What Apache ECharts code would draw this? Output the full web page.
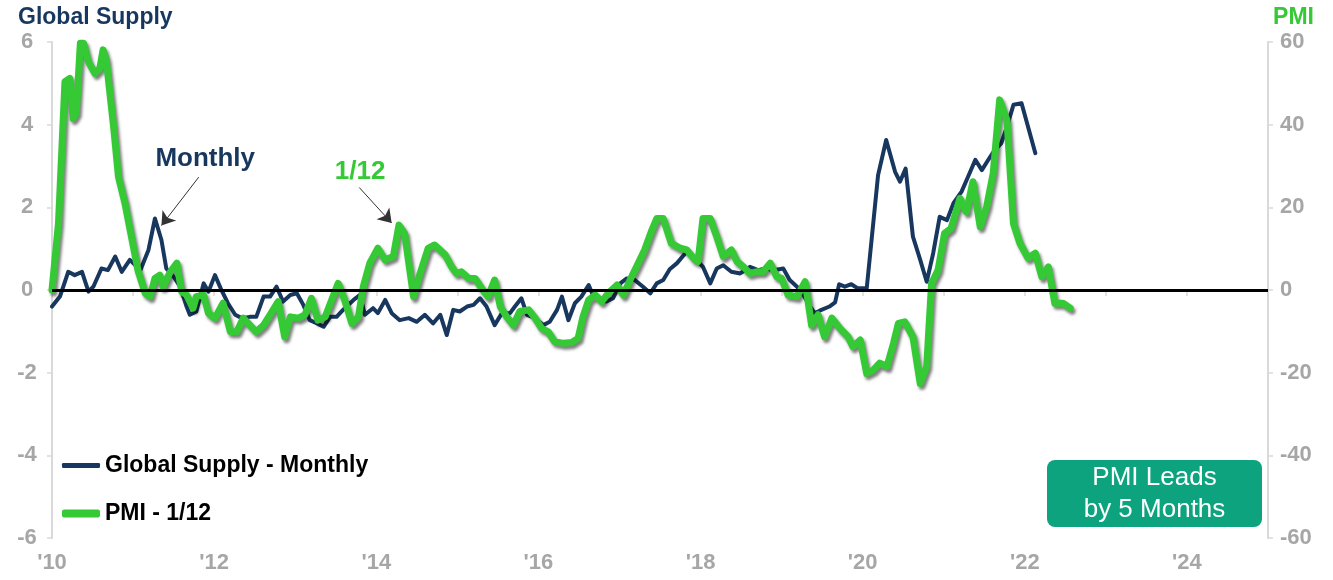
<!DOCTYPE html>
<html>
<head>
<meta charset="utf-8">
<script src="https://cdn.jsdelivr.net/npm/echarts@6/dist/echarts.min.js"></script>
<style>
  html, body { margin: 0; padding: 0; background: #fff; }
  #chart { width: 1333px; height: 580px; }
</style>
</head>
<body>
<div id="chart"></div>
<script>
// Global supply index (left axis), decimal years
const supplyYears = [
  2010.00, 2010.10, 2010.20, 2010.28, 2010.37, 2010.45, 2010.51, 2010.61, 2010.69, 2010.78,
  2010.86, 2010.96, 2011.09, 2011.19, 2011.27, 2011.35, 2011.41, 2011.50, 2011.58, 2011.66,
  2011.70, 2011.78, 2011.87, 2011.93, 2012.01, 2012.09, 2012.17, 2012.26, 2012.34, 2012.44,
  2012.52, 2012.61, 2012.69, 2012.77, 2012.85, 2012.94, 2013.02, 2013.10, 2013.18, 2013.27,
  2013.35, 2013.43, 2013.51, 2013.59, 2013.72, 2013.80, 2013.86, 2013.96, 2014.02, 2014.11,
  2014.19, 2014.29, 2014.40, 2014.50, 2014.60, 2014.70, 2014.79, 2014.87, 2014.95, 2015.03,
  2015.12, 2015.20, 2015.28, 2015.36, 2015.46, 2015.55, 2015.65, 2015.71, 2015.79, 2015.86,
  2015.96, 2016.06, 2016.14, 2016.23, 2016.29, 2016.37, 2016.45, 2016.53, 2016.62, 2016.68,
  2016.76, 2016.84, 2016.92, 2017.01, 2017.09, 2017.19, 2017.29, 2017.38, 2017.46, 2017.54,
  2017.62, 2017.71, 2017.83, 2017.93, 2018.03, 2018.12, 2018.20, 2018.28, 2018.38, 2018.49,
  2018.61, 2018.71, 2018.80, 2018.90, 2019.02, 2019.10, 2019.19, 2019.27, 2019.35, 2019.41,
  2019.47, 2019.59, 2019.66, 2019.71, 2019.78, 2019.86, 2019.94, 2020.05, 2020.19, 2020.29,
  2020.40, 2020.46, 2020.53, 2020.62, 2020.71, 2020.79, 2020.87, 2020.95, 2021.04, 2021.12,
  2021.22, 2021.30, 2021.39, 2021.47, 2021.55, 2021.63, 2021.71, 2021.78, 2021.86, 2021.96,
  2022.04, 2022.13
];
const supplyValues = [
  -0.40, -0.15, 0.44, 0.36, 0.44, -0.04, 0.08, 0.52, 0.48, 0.81,
  0.44, 0.73, 0.48, 0.97, 1.73, 1.21, 0.52, 0.32, 0.08, -0.40,
  -0.60, -0.52, 0.16, -0.04, 0.36, 0.00, -0.32, -0.60, -0.68, -0.65,
  -0.65, -0.16, -0.16, 0.08, -0.28, -0.12, -0.08, -0.36, -0.73, -0.81,
  -0.89, -0.65, -0.65, -0.48, -0.24, -0.12, -0.60, -0.44, -0.56, -0.24,
  -0.56, -0.73, -0.68, -0.77, -0.60, -0.81, -0.60, -1.09, -0.48, -0.52,
  -0.40, -0.36, -0.20, -0.40, -0.85, -0.56, -0.56, -0.40, -0.20, -0.60,
  -0.68, -0.85, -0.77, -0.48, -0.16, -0.73, -0.32, -0.16, 0.12, -0.16,
  -0.24, -0.28, -0.20, 0.16, 0.28, 0.24, 0.08, -0.08, 0.16, 0.24,
  0.50, 0.65, 0.93, 0.77, 0.56, 0.16, 0.52, 0.60, 0.44, 0.40,
  0.56, 0.48, 0.52, 0.48, 0.52, 0.24, 0.08, -0.12, -0.40, -0.56,
  -0.50, -0.40, -0.30, 0.14, 0.08, 0.14, 0.04, 0.04, 2.78, 3.63,
  2.86, 2.62, 2.94, 1.29, 0.73, 0.20, 0.89, 1.77, 1.69, 2.10,
  2.38, 2.74, 3.15, 2.90, 3.15, 3.39, 3.55, 3.95, 4.48, 4.52,
  3.95, 3.31
];

// PMI, shifted forward (right axis), decimal years
const pmiYears = [
  2010.00, 2010.08, 2010.16, 2010.22, 2010.26, 2010.30, 2010.35, 2010.39, 2010.45, 2010.53,
  2010.59, 2010.63, 2010.67, 2010.76, 2010.82, 2010.90, 2010.98, 2011.06, 2011.15, 2011.21,
  2011.27, 2011.33, 2011.37, 2011.46, 2011.54, 2011.60, 2011.66, 2011.74, 2011.78, 2011.87,
  2011.93, 2012.01, 2012.11, 2012.20, 2012.28, 2012.36, 2012.44, 2012.52, 2012.61, 2012.69,
  2012.79, 2012.87, 2012.94, 2013.04, 2013.12, 2013.20, 2013.28, 2013.37, 2013.45, 2013.53,
  2013.61, 2013.70, 2013.78, 2013.84, 2013.92, 2014.02, 2014.11, 2014.21, 2014.28, 2014.35,
  2014.46, 2014.54, 2014.64, 2014.72, 2014.85, 2014.93, 2014.99, 2015.05, 2015.14, 2015.22,
  2015.30, 2015.38, 2015.46, 2015.53, 2015.61, 2015.69, 2015.77, 2015.88, 2015.96, 2016.04,
  2016.12, 2016.20, 2016.31, 2016.41, 2016.49, 2016.55, 2016.62, 2016.70, 2016.78, 2016.86,
  2016.97, 2017.05, 2017.13, 2017.21, 2017.31, 2017.40, 2017.46, 2017.54, 2017.64, 2017.75,
  2017.83, 2017.93, 2017.97, 2018.03, 2018.12, 2018.20, 2018.28, 2018.38, 2018.45, 2018.53,
  2018.61, 2018.69, 2018.77, 2018.86, 2018.94, 2019.00, 2019.08, 2019.19, 2019.29, 2019.37,
  2019.45, 2019.53, 2019.62, 2019.72, 2019.82, 2019.88, 2019.97, 2020.05, 2020.13, 2020.21,
  2020.30, 2020.38, 2020.44, 2020.52, 2020.62, 2020.71, 2020.79, 2020.85, 2020.93, 2021.01,
  2021.09, 2021.20, 2021.28, 2021.36, 2021.45, 2021.53, 2021.61, 2021.69, 2021.78, 2021.86,
  2021.94, 2022.04, 2022.13, 2022.21, 2022.29, 2022.37, 2022.47, 2022.56
];
const pmiValues = [
  0.0, 16.1, 50.4, 51.2, 41.5, 42.8, 59.7, 59.7, 55.2, 52.4,
  53.6, 58.1, 55.6, 39.5, 27.4, 21.0, 12.9, 4.8, -0.8, -1.6,
  2.8, 3.6, 0.8, 4.4, 6.5, -0.4, -1.2, -4.4, -1.6, -1.2,
  -5.6, -6.8, -3.2, -10.1, -10.1, -6.8, -8.5, -10.1, -8.5, -6.0,
  -2.8, -11.3, -6.5, -6.8, -6.0, -2.0, -7.3, -6.5, -2.4, 1.6,
  -2.4, -8.1, -6.5, 0.8, 6.5, 10.1, 7.3, 8.1, 15.7, 13.7,
  -1.6, 4.0, 10.1, 10.9, 8.5, 5.6, 4.0, 4.4, 2.8, 2.8,
  0.4, -1.6, 2.4, -4.0, -6.5, -8.5, -5.2, -4.8, -6.8, -9.3,
  -10.1, -12.5, -12.9, -12.7, -11.7, -6.5, -2.4, -1.2, -2.8, -0.8,
  1.2, -1.2, 2.4, 5.6, 9.7, 14.5, 17.3, 17.3, 11.3, 10.1,
  9.7, 7.3, 6.9, 17.3, 17.3, 12.9, 8.1, 9.7, 6.9, 5.6,
  4.0, 4.4, 4.4, 6.5, 3.2, 2.8, -1.2, -1.6, 2.0, -8.5,
  -6.0, -11.3, -6.8, -9.3, -11.3, -13.7, -12.1, -20.2, -19.4, -17.7,
  -18.5, -12.9, -8.1, -7.7, -11.3, -22.6, -18.5, 1.6, 4.8, 13.7,
  14.9, 22.2, 18.9, 26.2, 15.3, 20.2, 28.2, 46.0, 41.1, 16.1,
  11.3, 7.7, 8.9, 3.2, 5.6, -3.2, -3.2, -4.4
];

const NAVY = '#17375E';
const GREEN = '#36C936';
const GREY = '#A6A6A6';
const AXIS_LINE = '#D9D9D9';
const FONT = 'Liberation Sans, Arial, sans-serif';

const pair = (xs, ys) => xs.map((x, i) => [x, ys[i]]);

const chart = echarts.init(document.getElementById('chart'), null, { renderer: 'canvas' });

chart.setOption({
  animation: false,
  backgroundColor: '#fff',
  title: [
    { text: 'Global Supply', left: 18, top: 6, padding: 0,
      textStyle: { color: NAVY, fontSize: 23, fontWeight: 'bold', fontFamily: FONT } },
    { text: 'PMI', right: 19, top: 6, padding: 0,
      textStyle: { color: GREEN, fontSize: 23, fontWeight: 'bold', fontFamily: FONT } }
  ],
  legend: [
    { data: ['Global Supply - Monthly'], left: 62, top: 454, padding: 0, icon: 'roundRect',
      itemWidth: 38, itemHeight: 5, itemGap: 4,
      textStyle: { color: '#000', fontSize: 23, fontWeight: 'bold', fontFamily: FONT } },
    { data: ['PMI - 1/12'], left: 62, top: 502, padding: 0, icon: 'roundRect',
      itemWidth: 38, itemHeight: 8, itemGap: 4,
      textStyle: { color: '#000', fontSize: 23, fontWeight: 'bold', fontFamily: FONT } }
  ],
  grid: { left: 52, right: 65, top: 42, bottom: 42, containLabel: false },
  xAxis: {
    type: 'value', min: 2010, max: 2025, interval: 1,
    axisLine: { show: true, lineStyle: { color: AXIS_LINE, width: 2 } },
    axisTick: { show: true, length: 6, lineStyle: { color: AXIS_LINE, width: 1.5 } },
    splitLine: { show: false },
    axisLabel: {
      color: GREY, fontSize: 22, fontWeight: 'bold', fontFamily: FONT, margin: 14,
      showMaxLabel: false,
      formatter: v => (v % 2 === 0 ? "'" + String(v).slice(2) : '')
    }
  },
  yAxis: [
    {
      type: 'value', min: -6, max: 6, interval: 2, position: 'left',
      axisLine: { show: true, lineStyle: { color: AXIS_LINE, width: 2 } },
      axisTick: { show: true, length: 5, lineStyle: { color: AXIS_LINE, width: 1.5 } },
      splitLine: { show: false },
      axisLabel: { color: GREY, fontSize: 22, fontWeight: 'bold', fontFamily: FONT,
        align: 'center', margin: 25 }
    },
    {
      type: 'value', min: -60, max: 60, interval: 20, position: 'right',
      axisLine: { show: true, lineStyle: { color: AXIS_LINE, width: 2 } },
      axisTick: { show: true, length: 5, lineStyle: { color: AXIS_LINE, width: 1.5 } },
      splitLine: { show: false },
      axisLabel: { color: GREY, fontSize: 22, fontWeight: 'bold', fontFamily: FONT,
        align: 'left', margin: 12 }
    }
  ],
  series: [
    {
      name: 'Global Supply - Monthly',
      type: 'line', yAxisIndex: 0, z: 3,
      data: pair(supplyYears, supplyValues),
      symbol: 'none',
      itemStyle: { color: NAVY },
      lineStyle: { color: NAVY, width: 4, join: 'round', cap: 'round' },
      markLine: {
        silent: true, animation: false,
        symbol: ['none', 'none'],
        label: { show: false },
        data: [
          { yAxis: 0, lineStyle: { color: '#000', width: 3, type: 'solid' } },
          [
            { coord: [2011.81, 2.73], lineStyle: { color: '#333', width: 1, type: 'solid' } },
            { coord: [2011.35, 1.56], symbol: 'arrow', symbolSize: 13 }
          ],
          [
            { coord: [2013.79, 2.48], lineStyle: { color: '#333', width: 1, type: 'solid' } },
            { coord: [2014.19, 1.62], symbol: 'arrow', symbolSize: 13 }
          ]
        ]
      },
      markPoint: {
        silent: true, animation: false,
        data: [{
          coord: [2011.89, 3.17], symbol: 'circle', symbolSize: 1,
          itemStyle: { color: 'rgba(0,0,0,0)' },
          label: { show: true, position: 'inside', formatter: 'Monthly',
            color: NAVY, fontSize: 26, fontWeight: 'bold', fontFamily: FONT }
        }]
      }
    },
    {
      name: 'PMI - 1/12',
      type: 'line', yAxisIndex: 1, z: 4,
      data: pair(pmiYears, pmiValues),
      symbol: 'none',
      itemStyle: { color: GREEN },
      lineStyle: {
        color: GREEN, width: 7, join: 'round', cap: 'round',
        shadowColor: 'rgba(0,0,0,0.5)', shadowBlur: 3, shadowOffsetX: 2, shadowOffsetY: 3
      },
      markPoint: {
        silent: true, animation: false,
        data: [{
          coord: [2013.80, 28.6], symbol: 'circle', symbolSize: 1,
          itemStyle: { color: 'rgba(0,0,0,0)' },
          label: { show: true, position: 'inside', formatter: '1/12',
            color: GREEN, fontSize: 26, fontWeight: 'bold', fontFamily: FONT }
        }]
      }
    }
  ],
  graphic: [{
    type: 'group', left: 1047, top: 460,
    children: [
      { type: 'rect', shape: { x: 0, y: 0, width: 215, height: 67, r: 8 },
        style: { fill: '#0EA37F' } },
      { type: 'text', x: 107.5, y: 34,
        style: { text: 'PMI Leads\nby 5 Months', fill: '#fff', font: '26px ' + FONT,
          align: 'center', verticalAlign: 'middle', lineHeight: 32 } }
    ]
  }]
});
</script>
</body>
</html>
